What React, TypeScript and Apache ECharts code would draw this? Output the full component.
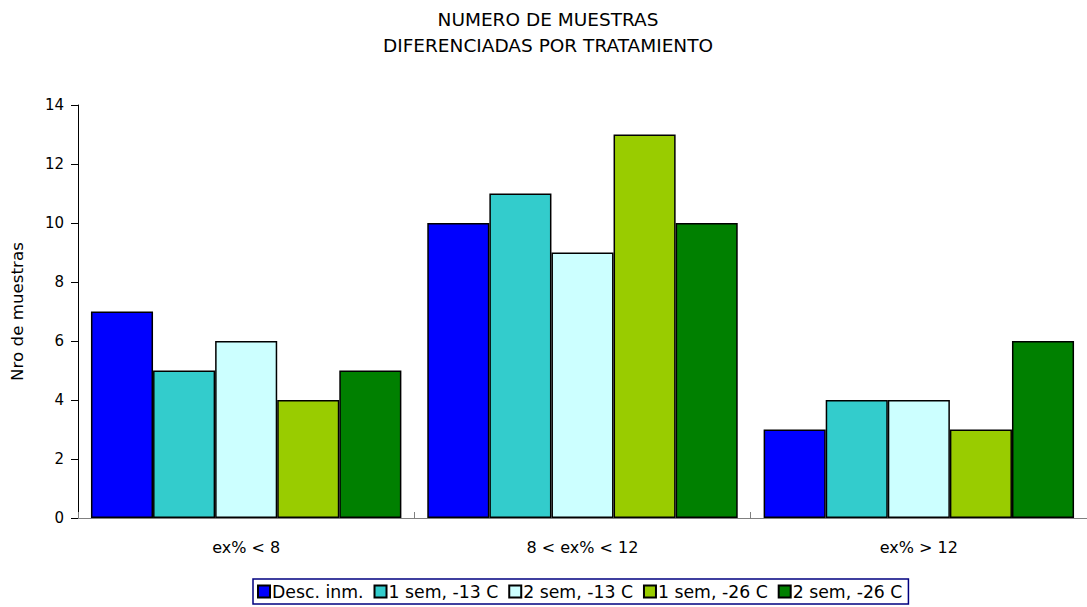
import React, { useEffect, useRef } from "react";
import * as echarts from "echarts";

const categories = ["ex% < 8", "8 < ex% < 12", "ex% > 12"];
const seriesNames = ["Desc. inm.", "1 sem, -13 C", "2 sem, -13 C", "1 sem, -26 C", "2 sem, -26 C"];
const descInm = [7, 10, 3];
const sem1m13 = [5, 11, 4];
const sem2m13 = [6, 9, 4];
const sem1m26 = [4, 13, 3];
const sem2m26 = [5, 10, 6];
const colors = ["#0000FF", "#33CCCC", "#CCFFFF", "#99CC00", "#008000"];
const yTicks = [0, 2, 4, 6, 8, 10, 12, 14];

export default function App() {
  const ref = useRef<HTMLDivElement>(null);
  useEffect(() => {
    if (!ref.current) return;
    const chart = echarts.init(ref.current, null, { renderer: "svg" });
    const values = [descInm, sem1m13, sem2m13, sem1m26, sem2m26];
    const font = "DejaVu Sans, sans-serif";
    chart.setOption({
      animation: false,
      backgroundColor: "#ffffff",
      textStyle: { fontFamily: font, color: "#000" },
      title: {
        text: "NUMERO DE MUESTRAS\nDIFERENCIADAS POR TRATAMIENTO",
        left: 543,
        textAlign: "center",
        top: 1,
        textStyle: { fontFamily: font, fontSize: 18.5, fontWeight: "normal", color: "#000", lineHeight: 26 },
      },
      legend: {
        data: seriesNames,
        left: 253,
        top: 579,
        orient: "horizontal",
        itemWidth: 12,
        itemHeight: 12,
        itemGap: 10,
        padding: [4, 6, 4, 4],
        borderColor: "#000080",
        borderWidth: 1.5,
        borderRadius: 0,
        icon: "rect",
        textStyle: { fontFamily: font, fontSize: 17.3, color: "#000", padding: [0, 0, 0, -3] },
      },
      grid: { left: 74, top: 105, width: 1017, height: 413, containLabel: false },
      xAxis: {
        type: "category",
        data: categories,
        axisLine: { lineStyle: { color: "#808080", width: 1 } },
        axisTick: { show: true, inside: true, length: 6, lineStyle: { color: "#808080" } },
        axisLabel: { fontFamily: font, fontSize: 16, color: "#000", margin: 21 },
        splitLine: { show: false },
      },
      yAxis: {
        type: "value",
        min: 0,
        max: 14,
        interval: 2,
        name: "Nro de muestras",
        nameLocation: "middle",
        nameGap: 53,
        nameRotate: 90,
        nameTextStyle: { fontFamily: font, fontSize: 16.7, color: "#000" },
        axisLine: { show: true, lineStyle: { color: "#000", width: 1 } },
        axisTick: { show: true, length: 7, lineStyle: { color: "#000" } },
        axisLabel: {
          fontFamily: font,
          fontSize: 15,
          color: "#000",
          margin: 14,
          formatter: (v: number) => (yTicks.includes(v) ? String(v) : ""),
        },
        splitLine: { show: false },
      },
      series: seriesNames.map((name, i) => ({
        name,
        type: "bar",
        data: values[i],
        barGap: "0%",
        barCategoryGap: "7.7%",
        itemStyle: { color: colors[i], borderColor: "#000", borderWidth: 1.5 },
      })),
    });
    return () => chart.dispose();
  }, []);
  return (
    <div
      ref={ref}
      style={{ position: "absolute", left: 0, top: 0, width: 1087, height: 607 }}
    />
  );
}
